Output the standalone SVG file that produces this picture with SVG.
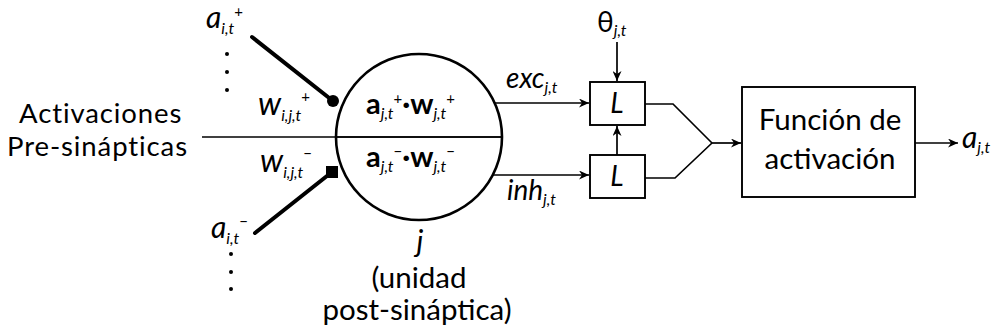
<svg xmlns="http://www.w3.org/2000/svg" width="1001" height="334" viewBox="0 0 1001 334">
<style>
text{font-family:Lato,"Open Sans","Liberation Sans",sans-serif;fill:#000}
.big{font-size:29.5px}
.pre{font-size:27.5px;letter-spacing:0.9px}
.it{font-style:italic}
.sub{font-size:16px;font-style:italic;font-weight:normal}
.sup{font-size:15px;font-weight:normal;font-style:normal}
.b{font-weight:bold}
.ln{stroke:#000;stroke-width:1.7;fill:none}
.thick{stroke:#000;stroke-width:4;fill:none;stroke-linecap:round}
.box{fill:#fff;stroke:#000;stroke-width:1.9}
</style>
<defs>
<marker id="ah" markerUnits="userSpaceOnUse" markerWidth="10" markerHeight="9" refX="10" refY="4.5" orient="auto">
<path d="M0,0 L10,4.5 L0,9 L3,4.5 z" fill="#000"/>
</marker>
</defs>
<g id="connectors">
<line class="ln" x1="202" y1="137" x2="502" y2="137"/>
<line class="thick" x1="252" y1="37" x2="333" y2="101"/>
<line class="thick" x1="255" y1="233" x2="332" y2="172"/>
<line class="ln" x1="495" y1="103" x2="589" y2="103" marker-end="url(#ah)"/>
<line class="ln" x1="493" y1="175" x2="589" y2="175" marker-end="url(#ah)"/>
<line class="ln" x1="617" y1="42" x2="617" y2="81" marker-end="url(#ah)"/>
<line class="ln" x1="617" y1="155" x2="617" y2="126" marker-end="url(#ah)"/>
<polyline class="ln" points="645,104 673,104 712,143"/>
<polyline class="ln" points="645,178 675,178 712,143"/>
<line class="ln" x1="712" y1="143" x2="741" y2="143" marker-end="url(#ah)"/>
<line class="ln" x1="915" y1="143" x2="958" y2="143" marker-end="url(#ah)"/>
</g>
<g id="presynaptic">
<text class="pre" x="19" y="123">Activaciones</text>
<text class="pre" x="7" y="156">Pre-sinápticas</text>
</g>
<g id="input-pos">
<text class="it" font-size="30" x="206" y="28">a<tspan class="sub" dy="6">i,t</tspan><tspan class="sup" dy="-17">+</tspan></text>
<circle cx="227" cy="54" r="2" fill="#000"/>
<circle cx="227" cy="72" r="2" fill="#000"/>
<circle cx="227" cy="90" r="2" fill="#000"/>
<circle cx="333" cy="101" r="6" fill="#000"/>
<text class="it" font-size="32" x="258" y="115">w<tspan class="sub" dy="6">i,j,t</tspan><tspan class="sup" dy="-19">+</tspan></text>
</g>
<g id="input-neg">
<text class="it" font-size="32" x="260" y="172">w<tspan class="sub" dy="6">i,j,t</tspan><tspan class="sup" dy="-19">−</tspan></text>
<rect x="326" y="166" width="12" height="12" fill="#000"/>
<text class="it" font-size="30" x="211" y="238">a<tspan class="sub" dy="6">i,t</tspan><tspan class="sup" dy="-17">−</tspan></text>
<circle cx="231" cy="254" r="2" fill="#000"/>
<circle cx="231" cy="272" r="2" fill="#000"/>
<circle cx="231" cy="289" r="2" fill="#000"/>
</g>
<g id="neuron">
<circle cx="419" cy="137" r="83" fill="none" stroke="#000" stroke-width="2.6"/>
<line class="ln" x1="336" y1="137" x2="502" y2="137"/>
<text font-size="29" x="366" y="114"><tspan class="b">a</tspan><tspan class="sub" dy="5">j,t</tspan><tspan class="sup" dy="-15">+</tspan><tspan class="b" dy="10">·w</tspan><tspan class="sub" dy="5">j,t</tspan><tspan class="sup" dy="-15">+</tspan></text>
<text font-size="29" x="366" y="167"><tspan class="b">a</tspan><tspan class="sub" dy="5">j,t</tspan><tspan class="sup" dy="-15">−</tspan><tspan class="b" dy="10">·w</tspan><tspan class="sub" dy="5">j,t</tspan><tspan class="sup" dy="-15">−</tspan></text>
<text class="it" font-size="30" x="420" y="252" text-anchor="middle">j</text>
<text class="big" x="419" y="288" text-anchor="middle">(unidad</text>
<text class="big" x="417" y="320" text-anchor="middle">post-sináptica)</text>
</g>
<g id="exc-label">
<text class="it" font-size="28" x="506" y="88">exc<tspan class="sub" dy="5">j,t</tspan></text>
</g>
<g id="inh-label">
<text class="it" font-size="28" x="507" y="200">inh<tspan class="sub" dy="5">j,t</tspan></text>
</g>
<g id="theta">
<text font-size="28" x="597" y="32">θ<tspan class="sub" dy="4">j,t</tspan></text>
</g>
<g id="L-exc">
<rect class="box" x="590" y="82" width="55" height="43"/>
<text class="it" font-size="28" x="617" y="113" text-anchor="middle">L</text>
</g>
<g id="L-inh">
<rect class="box" x="590" y="155" width="55" height="43"/>
<text class="it" font-size="28" x="617" y="186" text-anchor="middle">L</text>
</g>
<g id="activation">
<rect class="box" x="742" y="87" width="173" height="110"/>
<text class="big" x="830" y="130" text-anchor="middle">Función de</text>
<text class="big" x="830" y="169" text-anchor="middle">activación</text>
</g>
<g id="output">
<text class="it" font-size="30" x="962" y="148">a<tspan class="sub" dy="5">j,t</tspan></text>
</g>
</svg>
